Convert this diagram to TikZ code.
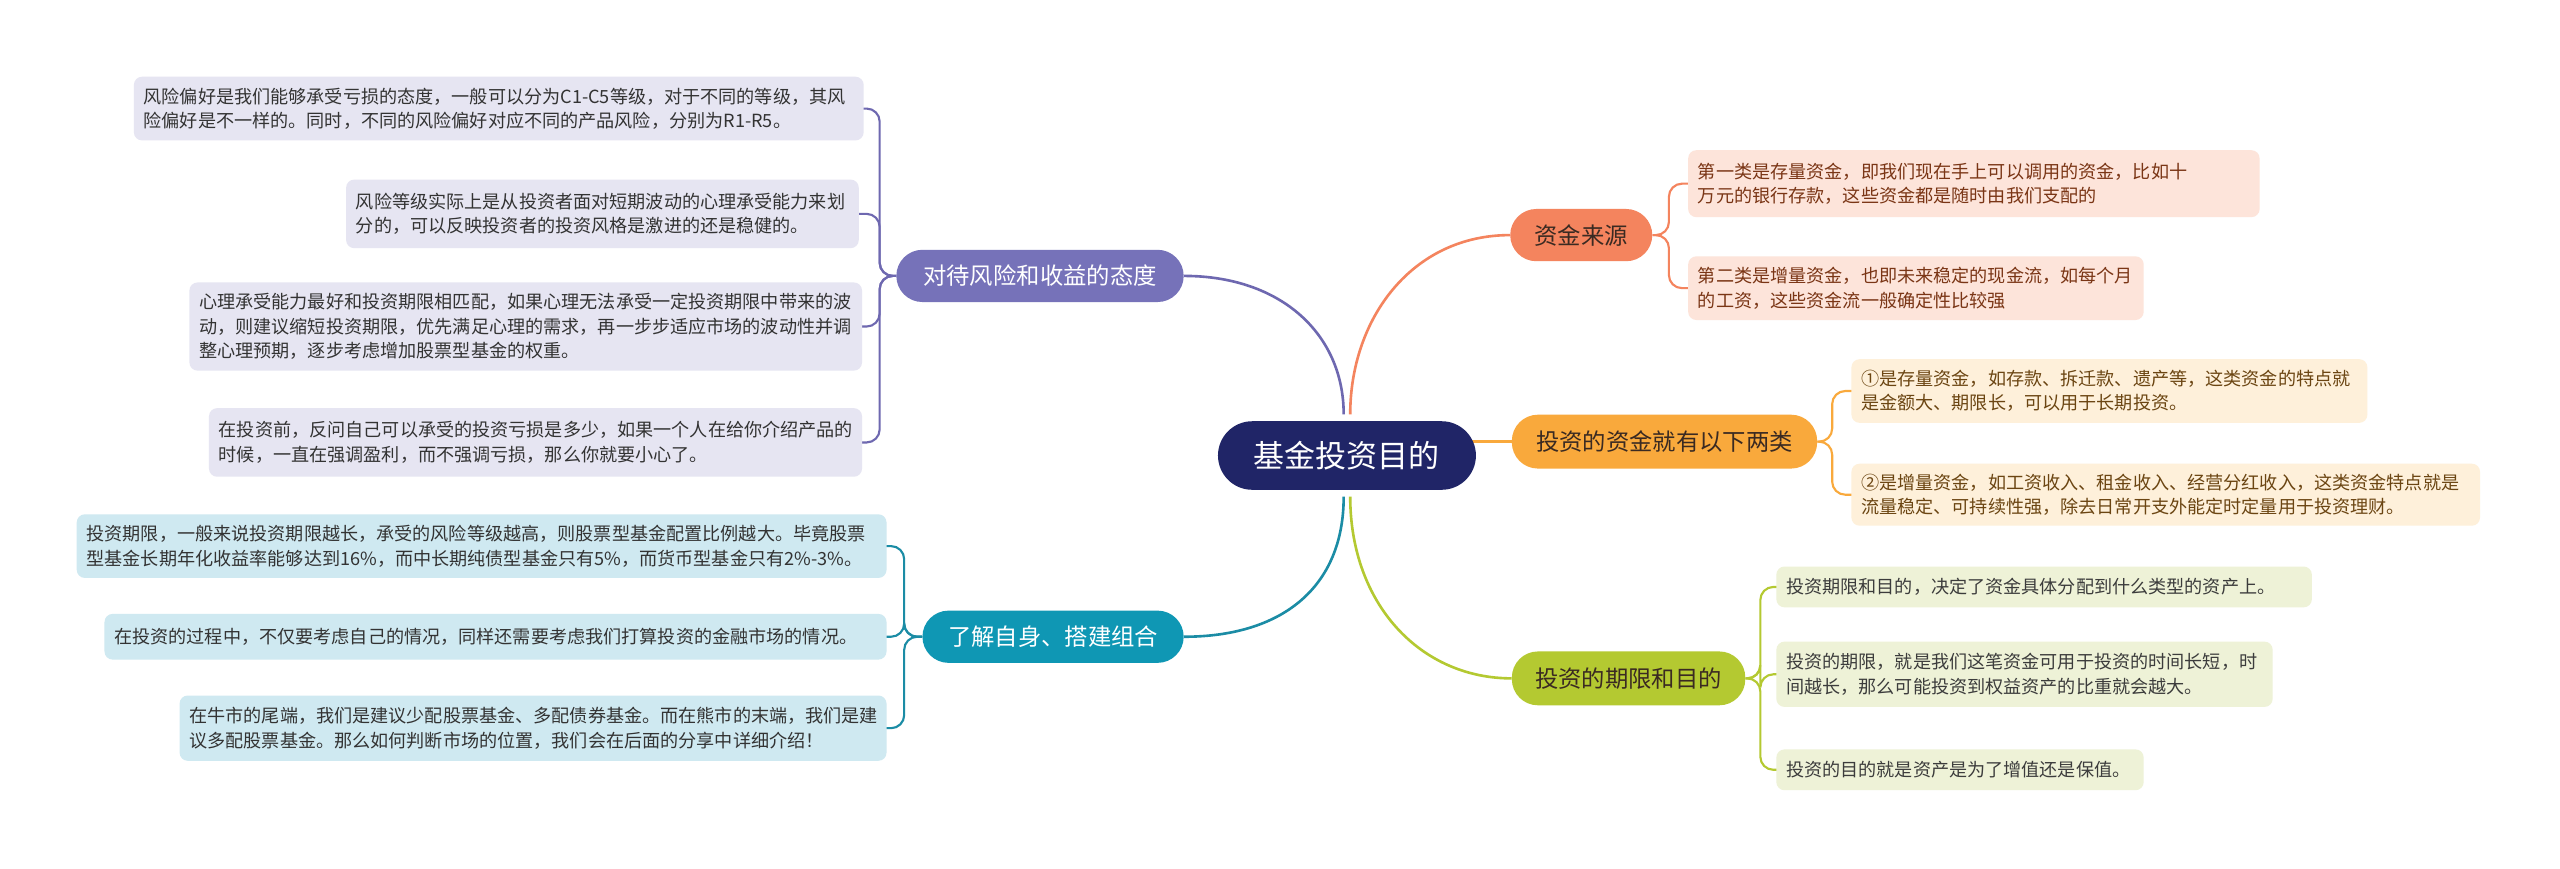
\documentclass[tikz,border=0pt]{standalone}
\usepackage{fontspec}
\newfontfamily\cjk{Noto Sans CJK SC}
\exhyphenpenalty=10000
\hyphenpenalty=10000
\definecolor{navy}{HTML}{202567}
\definecolor{pur}{HTML}{7672B9}
\definecolor{purL}{HTML}{E6E5F2}
\definecolor{purLine}{HTML}{6E68B0}
\definecolor{teal2}{HTML}{0F97B4}
\definecolor{tealL}{HTML}{CFE9F1}
\definecolor{tealLine}{HTML}{1B8CA5}
\definecolor{ora}{HTML}{F4845E}
\definecolor{oraL}{HTML}{FDE4DA}
\definecolor{oraT}{HTML}{7A3515}
\definecolor{yel}{HTML}{F9A93C}
\definecolor{yelL}{HTML}{FEF0DA}
\definecolor{yelT}{HTML}{6B4512}
\definecolor{grn}{HTML}{B4C931}
\definecolor{grnL}{HTML}{EEF2D7}
\definecolor{grnT}{HTML}{3C3C3C}
\definecolor{leafT}{HTML}{333333}
\definecolor{branchT}{HTML}{3A2A22}
\pgfdeclarelayer{back}
\pgfdeclarelayer{bg}
\pgfsetlayers{back,bg,main}
\tikzset{
  leaf/.style={rounded corners=5pt, inner xsep=6pt, inner ysep=3pt, align=left,
    font=\cjk\fontsize{11.1}{15}\selectfont, text=leafT},
  branch/.style={rounded corners=16pt, inner sep=0pt, align=center,
    font=\cjk\fontsize{14.3}{16}\selectfont},
  rootnode/.style={rounded corners=21pt, inner sep=0pt, fill=navy, text=white,
    font=\cjk\fontsize{19}{21}\selectfont},
  mainline/.style={line width=1.6pt},
  subline/.style={line width=1.3pt, rounded corners=8pt}
}
\begin{document}
\begin{tikzpicture}[x=1pt,y=-1pt]
\useasboundingbox (0,0) rectangle (1568,532);
\begin{pgfonlayer}{back}
\fill[white] (0,0) rectangle (1568,532);
\end{pgfonlayer}

% root
\node[rootnode, minimum width=158pt, minimum height=42pt] (C) at (825,279) {基金投资目的};

% branches
\node[branch, fill=pur, text=white, minimum width=176pt, minimum height=32pt] (P) at (637,169) {对待风险和收益的态度};
\node[branch, fill=teal2, text=white, minimum width=160pt, minimum height=32pt] (Tl) at (645,390) {了解自身、搭建组合};
\node[branch, fill=ora, text=branchT, minimum width=87pt, minimum height=32pt] (O) at (968.5,144) {资金来源};
\node[branch, fill=yel, text=branchT, minimum width=187pt, minimum height=33pt] (Y) at (1019.5,270.5) {投资的资金就有以下两类};
\node[branch, fill=grn, text=branchT, minimum width=143pt, minimum height=33pt] (G) at (997.5,415.5) {投资的期限和目的};

% purple leaves
\node[leaf, fill=purL, text width=435pt, minimum height=39pt] (L1) at (305.5,66.5) {风险偏好是我们能够承受亏损的态度，一般可以分为C1-C5等级，对于不同的等级，其风\\险偏好是不一样的。同时，不同的风险偏好对应不同的产品风险，分别为R1-R5。};
\node[leaf, fill=purL, text width=302pt, minimum height=42pt] (L2) at (369,131) {风险等级实际上是从投资者面对短期波动的心理承受能力来划\\分的，可以反映投资者的投资风格是激进的还是稳健的。};
\node[leaf, fill=purL, text width=400pt, minimum height=54pt] (L3) at (322,200) {心理承受能力最好和投资期限相匹配，如果心理无法承受一定投资期限中带来的波\\动，则建议缩短投资期限，优先满足心理的需求，再一步步适应市场的波动性并调\\整心理预期，逐步考虑增加股票型基金的权重。};
\node[leaf, fill=purL, text width=388pt, minimum height=42pt] (L4) at (328,271) {在投资前，反问自己可以承受的投资亏损是多少，如果一个人在给你介绍产品的\\时候，一直在强调盈利，而不强调亏损，那么你就要小心了。};

% teal leaves
\node[leaf, fill=tealL, text width=484pt, minimum height=39pt] (T1) at (295,334.5) {投资期限，一般来说投资期限越长，承受的风险等级越高，则股票型基金配置比例越大。毕竟股票\\型基金长期年化收益率能够达到16\%，而中长期纯债型基金只有5\%，而货币型基金只有2\%-3\%。};
\node[leaf, fill=tealL, text width=467pt, minimum height=28pt] (T2) at (303.5,390) {在投资的过程中，不仅要考虑自己的情况，同样还需要考虑我们打算投资的金融市场的情况。};
\node[leaf, fill=tealL, text width=421pt, minimum height=40pt] (T3) at (326.5,446) {在牛市的尾端，我们是建议少配股票基金、多配债券基金。而在熊市的末端，我们是建\\议多配股票基金。那么如何判断市场的位置，我们会在后面的分享中详细介绍！};

% orange leaves
\node[leaf, fill=oraL, text=oraT, text width=338pt, minimum height=41pt] (R1) at (1209,112.5) {第一类是存量资金，即我们现在手上可以调用的资金，比如十\\万元的银行存款，这些资金都是随时由我们支配的};
\node[leaf, fill=oraL, text=oraT, text width=267pt, minimum height=39pt] (R2) at (1173.5,176.5) {第二类是增量资金，也即未来稳定的现金流，如每个月\\的工资，这些资金流一般确定性比较强};

% yellow leaves
\node[leaf, fill=yelL, text=yelT, text width=304pt, minimum height=39pt] (Y1) at (1292,239.5) {①是存量资金，如存款、拆迁款、遗产等，这类资金的特点就\\是金额大、期限长，可以用于长期投资。};
\node[leaf, fill=yelL, text=yelT, text width=373pt, minimum height=38pt] (Y2) at (1326.5,303) {②是增量资金，如工资收入、租金收入、经营分红收入，这类资金特点就是\\流量稳定、可持续性强，除去日常开支外能定时定量用于投资理财。};

% green leaves
\node[leaf, fill=grnL, text=grnT, text width=316pt, minimum height=25pt] (G1) at (1252,359.5) {投资期限和目的，决定了资金具体分配到什么类型的资产上。};
\node[leaf, fill=grnL, text=grnT, text width=292pt, minimum height=40pt] (G2) at (1240,413) {投资的期限，就是我们这笔资金可用于投资的时间长短，时\\间越长，那么可能投资到权益资产的比重就会越大。};
\node[leaf, fill=grnL, text=grnT, text width=213pt, minimum height=25pt] (G3) at (1200.5,471.5) {投资的目的就是资产是为了增值还是保值。};

% spine points
\coordinate (Ps) at ([xshift=-10pt]P.west);
\coordinate (Ts) at ([xshift=-11pt]Tl.west);
\coordinate (Os) at ([xshift=10pt]O.east);
\coordinate (Ys) at ([xshift=9pt]Y.east);
\coordinate (Gs) at ([xshift=9pt]G.east);
\coordinate (Ctop) at ([yshift=4pt]C.north);
\coordinate (Cbot) at ([yshift=-4pt]C.south);
\coordinate (Cy) at ([xshift=-6pt]C.east |- Y.west);

\begin{pgfonlayer}{bg}
% main connectors
\draw[mainline, purLine] (P.east) .. controls (785,169) and ([xshift=-2pt]Ctop |- 0,205) .. ([xshift=-2pt]Ctop);
\draw[mainline, ora] ([xshift=2pt]Ctop) .. controls ([xshift=2pt]Ctop |- 0,195) and (865,144) .. (O.west);
\draw[mainline, tealLine] ([xshift=-2pt]Cbot) .. controls ([xshift=-2pt]Cbot |- 0,360) and (785,390) .. (Tl.east);
\draw[mainline, grn] ([xshift=2pt]Cbot) .. controls ([xshift=2pt]Cbot |- 0,370) and (870,415.5) .. (G.west);
\draw[mainline, yel] (Cy) -- (Y.west);

% purple leaf connectors
\foreach \n in {L1,L2,L3,L4}
  \draw[subline, purLine] (P.west) -- (Ps) |- ([xshift=-2pt]\n.east);
% teal
\foreach \n in {T1,T2,T3}
  \draw[subline, tealLine] (Tl.west) -- (Ts) |- ([xshift=-2pt]\n.east);
% orange
\foreach \n in {R1,R2}
  \draw[subline, ora] (O.east) -- (Os) |- ([xshift=2pt]\n.west);
% yellow
\foreach \n in {Y1,Y2}
  \draw[subline, yel] (Y.east) -- (Ys) |- ([xshift=2pt]\n.west);
% green
\foreach \n in {G1,G2,G3}
  \draw[subline, grn] (G.east) -- (Gs) |- ([xshift=2pt]\n.west);
\end{pgfonlayer}
\end{tikzpicture}
\end{document}
